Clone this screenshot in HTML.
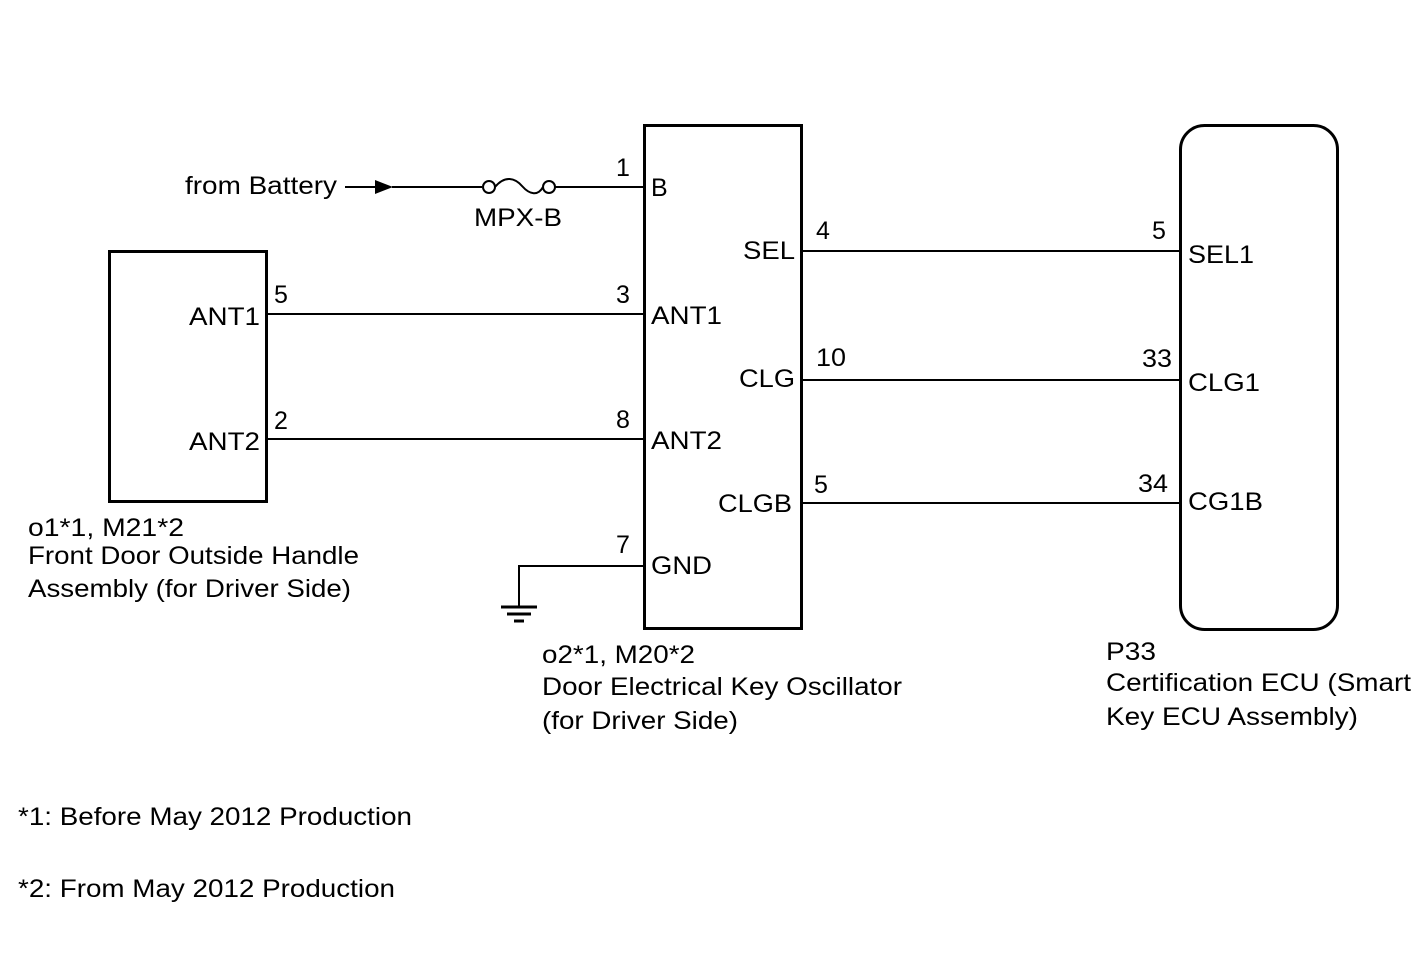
<!DOCTYPE html>
<html><head><style>html,body{margin:0;padding:0;background:#fff}</style></head><body>
<svg width="1424" height="959" xmlns="http://www.w3.org/2000/svg" font-family="Liberation Sans, sans-serif" font-size="25" fill="#000">
<g fill="none" stroke="#000" stroke-width="3">
<rect x="109.5" y="251.5" width="157" height="250"/>
<rect x="644.5" y="125.5" width="157" height="503"/>
<rect x="1180.5" y="125.5" width="157" height="504" rx="24"/>
</g>
<g stroke="#000" stroke-width="2" fill="none">
<line x1="345" y1="187" x2="376" y2="187"/>
<line x1="392" y1="187" x2="482" y2="187"/>
<circle cx="489" cy="187" r="6"/>
<path d="M495 187 C505 175 515 178 522 186 C530 195 538 196 543 187"/>
<circle cx="549" cy="187" r="6"/>
<line x1="555" y1="187" x2="644" y2="187"/>
<line x1="267" y1="314" x2="644" y2="314"/>
<line x1="267" y1="439" x2="644" y2="439"/>
<line x1="802" y1="251" x2="1180" y2="251"/>
<line x1="802" y1="380" x2="1180" y2="380"/>
<line x1="802" y1="503" x2="1180" y2="503"/>
<polyline points="644,566 519,566 519,607"/>
<line x1="501" y1="607" x2="537" y2="607" stroke-width="3"/>
<line x1="507" y1="614" x2="531" y2="614" stroke-width="3"/>
<line x1="514" y1="621" x2="524" y2="621" stroke-width="3"/>
</g>
<polygon points="375,180 393,187 375,194" fill="#000"/>
<g lengthAdjust="spacingAndGlyphs">
<text x="185" y="194" textLength="152" lengthAdjust="spacingAndGlyphs">from Battery</text>
<text x="474" y="226" textLength="88" lengthAdjust="spacingAndGlyphs">MPX-B</text>
<text x="616" y="176">1</text>
<text x="651" y="196">B</text>
<text x="616" y="303">3</text>
<text x="651" y="324" textLength="71" lengthAdjust="spacingAndGlyphs">ANT1</text>
<text x="616" y="428">8</text>
<text x="651" y="449" textLength="71" lengthAdjust="spacingAndGlyphs">ANT2</text>
<text x="616" y="553">7</text>
<text x="651" y="574" textLength="61" lengthAdjust="spacingAndGlyphs">GND</text>
<text x="274" y="303">5</text>
<text x="189" y="325" textLength="71" lengthAdjust="spacingAndGlyphs">ANT1</text>
<text x="274" y="429">2</text>
<text x="189" y="450" textLength="71" lengthAdjust="spacingAndGlyphs">ANT2</text>
<text x="743" y="259" textLength="52" lengthAdjust="spacingAndGlyphs">SEL</text>
<text x="739" y="387" textLength="56" lengthAdjust="spacingAndGlyphs">CLG</text>
<text x="718" y="512" textLength="74" lengthAdjust="spacingAndGlyphs">CLGB</text>
<text x="816" y="239">4</text>
<text x="816" y="366" textLength="30" lengthAdjust="spacingAndGlyphs">10</text>
<text x="814" y="493">5</text>
<text x="1152" y="239">5</text>
<text x="1142" y="367" textLength="30" lengthAdjust="spacingAndGlyphs">33</text>
<text x="1138" y="492" textLength="30" lengthAdjust="spacingAndGlyphs">34</text>
<text x="1188" y="263" textLength="66" lengthAdjust="spacingAndGlyphs">SEL1</text>
<text x="1188" y="391" textLength="72" lengthAdjust="spacingAndGlyphs">CLG1</text>
<text x="1188" y="510" textLength="75" lengthAdjust="spacingAndGlyphs">CG1B</text>
<text x="28" y="536" textLength="156" lengthAdjust="spacingAndGlyphs">o1*1, M21*2</text>
<text x="28" y="564" textLength="331" lengthAdjust="spacingAndGlyphs">Front Door Outside Handle</text>
<text x="28" y="597" textLength="323" lengthAdjust="spacingAndGlyphs">Assembly (for Driver Side)</text>
<text x="542" y="663" textLength="153" lengthAdjust="spacingAndGlyphs">o2*1, M20*2</text>
<text x="542" y="695" textLength="360" lengthAdjust="spacingAndGlyphs">Door Electrical Key Oscillator</text>
<text x="542" y="729" textLength="196" lengthAdjust="spacingAndGlyphs">(for Driver Side)</text>
<text x="1106" y="660" textLength="50" lengthAdjust="spacingAndGlyphs">P33</text>
<text x="1106" y="691" textLength="305" lengthAdjust="spacingAndGlyphs">Certification ECU (Smart</text>
<text x="1106" y="725" textLength="252" lengthAdjust="spacingAndGlyphs">Key ECU Assembly)</text>
<text x="18" y="825" textLength="394" lengthAdjust="spacingAndGlyphs">*1: Before May 2012 Production</text>
<text x="18" y="897" textLength="377" lengthAdjust="spacingAndGlyphs">*2: From May 2012 Production</text>
</g>
</svg>
</body></html>
